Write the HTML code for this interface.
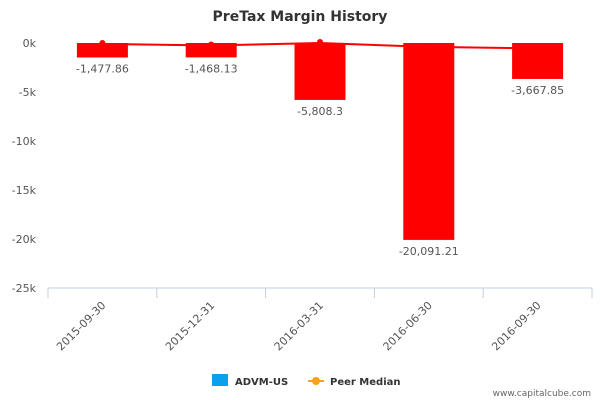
<!DOCTYPE html>
<html><head><meta charset="utf-8"><style>
body{margin:0;background:#fff;}
svg{display:block;font-family:"DejaVu Sans","Liberation Sans",sans-serif;}
</style></head><body>
<svg id="chart" width="600" height="400">
<text x="300" y="21" text-anchor="middle" font-size="14" font-weight="bold" fill="#333">PreTax Margin History</text>
<g id="grid"></g><g id="bars"></g><g id="line"></g><g id="labels"></g><g id="axes"></g>
<g>
<rect x="212" y="374" width="16" height="12" fill="#0aa0ee"/>
<text x="235" y="385" font-size="10" font-weight="bold" fill="#333">ADVM-US</text>
<line x1="308" y1="381" x2="324" y2="381" stroke="#f7a21b" stroke-width="2"/>
<circle cx="316" cy="381" r="4" fill="#f7a21b"/>
<text x="330" y="385" font-size="10" font-weight="bold" fill="#333">Peer Median</text>
</g>
<text x="591" y="396" text-anchor="end" font-size="9" fill="#666">www.capitalcube.com</text>
</svg>
<script>
const categories=["2015-09-30","2015-12-31","2016-03-31","2016-06-30","2016-09-30"];
const values=[-1477.86,-1468.13,-5808.3,-20091.21,-3667.85];
const valueLabels=["-1,477.86","-1,468.13","-5,808.3","-20,091.21","-3,667.85"];
const peer=[-100,-250,0,-400,-550];
const yTicks=[0,-5000,-10000,-15000,-20000,-25000];
const yTickLabels=["0k","-5k","-10k","-15k","-20k","-25k"];
const NS="http://www.w3.org/2000/svg";
const x0=48,x1=592,yTop=43,yBot=288;
const bw=(x1-x0)/categories.length;
function xc(i){return x0+bw*(i+0.5);}
function y(v){return yTop+(0-v)/25000*(yBot-yTop);}
function mk(tag,at,parent){const e=document.createElementNS(NS,tag);for(const k in at)e.setAttribute(k,at[k]);document.getElementById(parent).appendChild(e);return e;}
yTicks.forEach((t,i)=>{
 const tx=mk("text",{x:36,y:y(t)+4,"text-anchor":"end","font-size":"11",fill:"#555"},"axes");
 
 
 tx.textContent=yTickLabels[i];
});
const ax=mk("line",{x1:x0,x2:x1,y1:yBot,y2:yBot,stroke:"#c0d0e0","stroke-width":1},"axes");


for(let i=0;i<=categories.length;i++){
 const tk=mk("line",{x1:x0+bw*i,x2:x0+bw*i,y1:yBot,y2:yBot+10,stroke:"#c0d0e0"},"axes");
 
 
}
categories.forEach((c,i)=>{
 const cx=xc(i);
 const r=mk("rect",{x:cx-25.5,y:y(0),width:51,height:y(values[i])-y(0),fill:"#ff0000"},"bars");
 
 
 const l=mk("text",{x:cx,y:y(values[i])+15,"text-anchor":"middle","font-size":"11",fill:"#555"},"labels");
 
 
 l.textContent=valueLabels[i];
 const tx=cx+4,ty=yBot+18;
 const xl=mk("text",{x:tx,y:ty,"text-anchor":"end","font-size":"11",fill:"#555",transform:`rotate(-45 ${tx} ${ty})`},"axes");
 
 
 xl.textContent=c;
});
const pts=peer.map((v,i)=>xc(i)+","+y(v)).join(" ");
const pl=mk("polyline",{points:pts,fill:"none",stroke:"#ff0000","stroke-width":2},"line");


peer.forEach((v,i)=>{
 const d=mk("circle",{cx:xc(i),cy:y(v)-1,r:3,fill:"#ff0000"},"line");
 
 
});
</script>
</body></html>
